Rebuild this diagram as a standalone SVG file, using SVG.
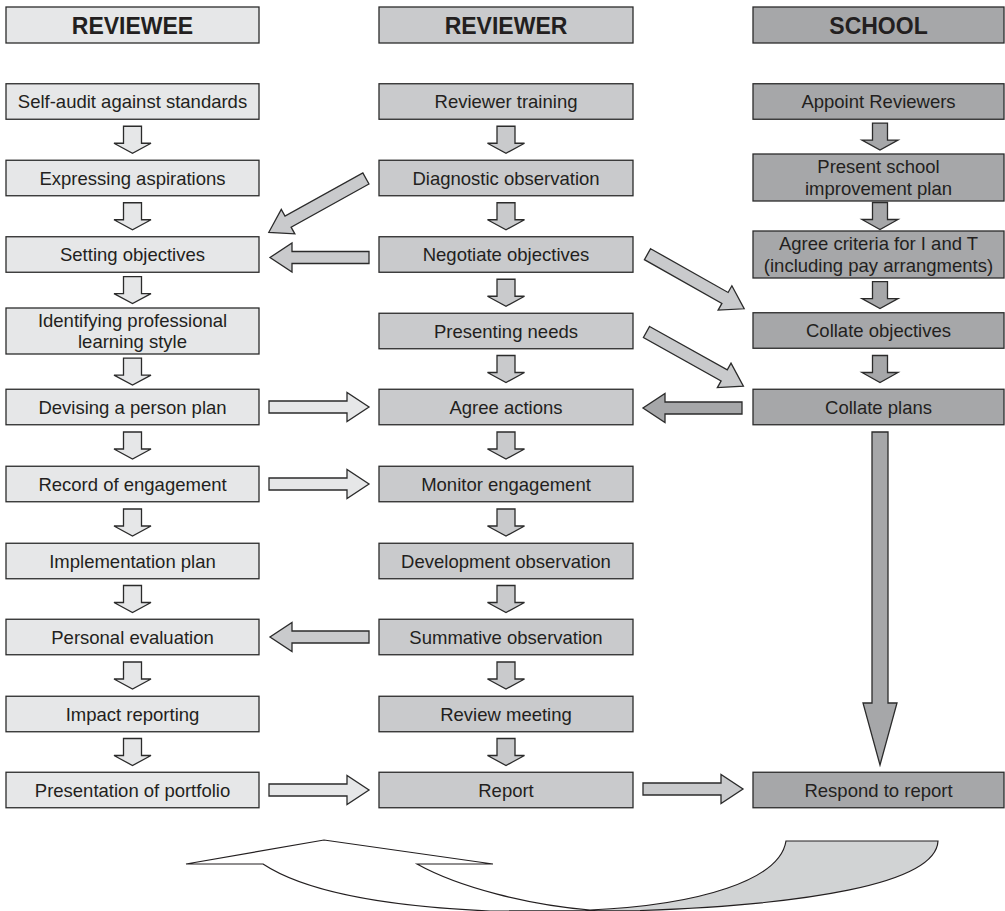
<svg xmlns="http://www.w3.org/2000/svg" width="1005" height="911" viewBox="0 0 1005 911">
<style>
.c1{fill:#e6e7e8;stroke:#2b2b2b;stroke-width:1.3}
.c2{fill:#c9cacc;stroke:#2b2b2b;stroke-width:1.3}
.c3{fill:#a6a7a9;stroke:#2b2b2b;stroke-width:1.3}
.t{font-family:"Liberation Sans",Arial,Helvetica,sans-serif;font-size:18.5px;fill:#231f20;text-anchor:middle}
.h{font-weight:bold;font-size:23px}
</style>
<defs>
<path id="diag" d="M0,-6.3 H89 V-14 L111,0 L89,14 V6.3 H0 Z"/>
</defs>
<rect width="1005" height="911" fill="#ffffff"/>

<g id="hdr-reviewee"><rect class="c1" x="6" y="7" width="253" height="36"/><text class="t h" x="132.5" y="34">REVIEWEE</text></g>
<g id="hdr-reviewer"><rect class="c2" x="379" y="7" width="254" height="36"/><text class="t h" x="506" y="34">REVIEWER</text></g>
<g id="hdr-school"><rect class="c3" x="753" y="7" width="251" height="36"/><text class="t h" x="878.5" y="34">SCHOOL</text></g>

<g id="ee1"><rect class="c1" x="6" y="83.75" width="253" height="35.5"/><text class="t" x="132.5" y="108.1">Self-audit against standards</text></g>
<g id="ee2"><rect class="c1" x="6" y="160.25" width="253" height="35.5"/><text class="t" x="132.5" y="184.6">Expressing aspirations</text></g>
<g id="ee3"><rect class="c1" x="6" y="236.75" width="253" height="35.5"/><text class="t" x="132.5" y="261.1">Setting objectives</text></g>
<g id="ee4"><rect class="c1" x="6" y="308" width="253" height="46"/><text class="t" x="132.5" y="326.8">Identifying professional</text><text class="t" x="132.5" y="348.3">learning style</text></g>
<g id="ee5"><rect class="c1" x="6" y="389.25" width="253" height="35.5"/><text class="t" x="132.5" y="413.6">Devising a person plan</text></g>
<g id="ee6"><rect class="c1" x="6" y="466.25" width="253" height="35.5"/><text class="t" x="132.5" y="490.6">Record of engagement</text></g>
<g id="ee7"><rect class="c1" x="6" y="543.25" width="253" height="35.5"/><text class="t" x="132.5" y="567.6">Implementation plan</text></g>
<g id="ee8"><rect class="c1" x="6" y="619.25" width="253" height="35.5"/><text class="t" x="132.5" y="643.6">Personal evaluation</text></g>
<g id="ee9"><rect class="c1" x="6" y="696.25" width="253" height="35.5"/><text class="t" x="132.5" y="720.6">Impact reporting</text></g>
<g id="ee10"><rect class="c1" x="6" y="772.25" width="253" height="35.5"/><text class="t" x="132.5" y="796.6">Presentation of portfolio</text></g>

<g id="er1"><rect class="c2" x="379" y="83.75" width="254" height="35.5"/><text class="t" x="506" y="108.1">Reviewer training</text></g>
<g id="er2"><rect class="c2" x="379" y="160.25" width="254" height="35.5"/><text class="t" x="506" y="184.6">Diagnostic observation</text></g>
<g id="er3"><rect class="c2" x="379" y="236.75" width="254" height="35.5"/><text class="t" x="506" y="261.1">Negotiate objectives</text></g>
<g id="er4"><rect class="c2" x="379" y="313.25" width="254" height="35.5"/><text class="t" x="506" y="337.6">Presenting needs</text></g>
<g id="er5"><rect class="c2" x="379" y="389.25" width="254" height="35.5"/><text class="t" x="506" y="413.6">Agree actions</text></g>
<g id="er6"><rect class="c2" x="379" y="466.25" width="254" height="35.5"/><text class="t" x="506" y="490.6">Monitor engagement</text></g>
<g id="er7"><rect class="c2" x="379" y="543.25" width="254" height="35.5"/><text class="t" x="506" y="567.6">Development observation</text></g>
<g id="er8"><rect class="c2" x="379" y="619.25" width="254" height="35.5"/><text class="t" x="506" y="643.6">Summative observation</text></g>
<g id="er9"><rect class="c2" x="379" y="696.25" width="254" height="35.5"/><text class="t" x="506" y="720.6">Review meeting</text></g>
<g id="er10"><rect class="c2" x="379" y="772.25" width="254" height="35.5"/><text class="t" x="506" y="796.6">Report</text></g>

<g id="sc1"><rect class="c3" x="753" y="83.75" width="251" height="35.5"/><text class="t" x="878.5" y="108.1">Appoint Reviewers</text></g>
<g id="sc2"><rect class="c3" x="753" y="154" width="251" height="47"/><text class="t" x="878.5" y="173.3">Present school</text><text class="t" x="878.5" y="194.8">improvement plan</text></g>
<g id="sc3"><rect class="c3" x="753" y="231" width="251" height="47"/><text class="t" x="878.5" y="250.3">Agree criteria for I and T</text><text class="t" x="878.5" y="271.8">(including pay arrangments)</text></g>
<g id="sc4"><rect class="c3" x="753" y="312.75" width="251" height="35.5"/><text class="t" x="878.5" y="337.1">Collate objectives</text></g>
<g id="sc5"><rect class="c3" x="753" y="389.25" width="251" height="35.5"/><text class="t" x="878.5" y="413.6">Collate plans</text></g>
<g id="sc6"><rect class="c3" x="753" y="772.25" width="251" height="35.5"/><text class="t" x="878.5" y="796.6">Respond to report</text></g>

<g id="connectors">
<!-- reviewee down arrows -->
<path class="c1" d="M123.5,126.25 H141.5 V143.25 H151 L132.5,153.25 L114,143.25 H123.5 Z"/>
<path class="c1" d="M123.5,202.75 H141.5 V219.75 H151 L132.5,229.75 L114,219.75 H123.5 Z"/>
<path class="c1" d="M123.5,276.6 H141.5 V293.6 H151 L132.5,303.6 L114,293.6 H123.5 Z"/>
<path class="c1" d="M123.5,358.1 H141.5 V375.1 H151 L132.5,385.1 L114,375.1 H123.5 Z"/>
<path class="c1" d="M123.5,432 H141.5 V449 H151 L132.5,459 L114,449 H123.5 Z"/>
<path class="c1" d="M123.5,509 H141.5 V526 H151 L132.5,536 L114,526 H123.5 Z"/>
<path class="c1" d="M123.5,585.5 H141.5 V602.5 H151 L132.5,612.5 L114,602.5 H123.5 Z"/>
<path class="c1" d="M123.5,662 H141.5 V679 H151 L132.5,689 L114,679 H123.5 Z"/>
<path class="c1" d="M123.5,738.5 H141.5 V755.5 H151 L132.5,765.5 L114,755.5 H123.5 Z"/>
<!-- reviewer down arrows -->
<path class="c2" d="M497,126.25 H515 V143.25 H524.5 L506,153.25 L487.5,143.25 H497 Z"/>
<path class="c2" d="M497,202.75 H515 V219.75 H524.5 L506,229.75 L487.5,219.75 H497 Z"/>
<path class="c2" d="M497,279.25 H515 V296.25 H524.5 L506,306.25 L487.5,296.25 H497 Z"/>
<path class="c2" d="M497,355.5 H515 V372.5 H524.5 L506,382.5 L487.5,372.5 H497 Z"/>
<path class="c2" d="M497,432 H515 V449 H524.5 L506,459 L487.5,449 H497 Z"/>
<path class="c2" d="M497,509 H515 V526 H524.5 L506,536 L487.5,526 H497 Z"/>
<path class="c2" d="M497,585.5 H515 V602.5 H524.5 L506,612.5 L487.5,602.5 H497 Z"/>
<path class="c2" d="M497,662 H515 V679 H524.5 L506,689 L487.5,679 H497 Z"/>
<path class="c2" d="M497,738.5 H515 V755.5 H524.5 L506,765.5 L487.5,755.5 H497 Z"/>
<!-- school down arrows -->
<path class="c3" d="M872.5,123.1 H887.5 V140.1 H898 L880,150.1 L862,140.1 H872.5 Z"/>
<path class="c3" d="M872.5,202.5 H887.5 V219.5 H898 L880,229.5 L862,219.5 H872.5 Z"/>
<path class="c3" d="M872.5,281.6 H887.5 V298.6 H898 L880,308.6 L862,298.6 H872.5 Z"/>
<path class="c3" d="M872.5,355.5 H887.5 V372.5 H898 L880,382.5 L862,372.5 H872.5 Z"/>
<!-- big school arrow -->
<path class="c3" d="M872,432 H888 V703 H897 L880,765 L863,703 H872 Z"/>
<!-- horizontal arrows -->
<path class="c1" d="M269,401 H347 V392.5 L369,407 L347,421.5 V413 H269 Z"/>
<path class="c1" d="M269,478 H347 V469.5 L369,484 L347,498.5 V490 H269 Z"/>
<path class="c1" d="M269,784 H347 V775.5 L369,790 L347,804.5 V796 H269 Z"/>
<path class="c2" d="M643,783 H721 V774.5 L743,789 L721,803.5 V795 H643 Z"/>
<path class="c2" d="M369,251.5 H292 V243 L270,257.5 L292,272 V263.5 H369 Z"/>
<path class="c2" d="M369,631 H292 V622.5 L270,637 L292,651.5 V643 H369 Z"/>
<path class="c3" d="M742,402 H665 V393.5 L643,408 L665,422.5 V414 H742 Z"/>
<!-- diagonal arrows -->
<use href="#diag" class="c2" transform="translate(365.9,178.5) rotate(151)"/>
<use href="#diag" class="c2" transform="translate(647.5,254.2) rotate(29.45)"/>
<use href="#diag" class="c2" transform="translate(646.5,332) rotate(29.2)"/>
</g>

<g id="cycle-arrow">
<path fill="#ffffff" stroke="none" d="M263,864 L186,864 L324,840 L493,864 L417,864 C460,888 530,905 590,910 C700,905 780,880 786,841 L938,841 C936,885 800,905 640,910.5 L490,911 C400,907 310,895 263,864 Z"/>
<path fill="#d1d3d4" stroke="none" d="M590,910 C700,905 780,880 786,841 L938,841 C936,885 800,905 640,910.5 L590,911 Z"/>
<path fill="none" stroke="#231f20" stroke-width="1.2" stroke-linejoin="miter" d="M263,864 L186,864 L324,840 L493,864 L417,864 C460,888 530,905 590,910 C700,905 780,880 786,841 L938,841 C936,885 800,905 640,910.5 L490,911 C400,907 310,895 263,864 Z"/>
</g>
</svg>
